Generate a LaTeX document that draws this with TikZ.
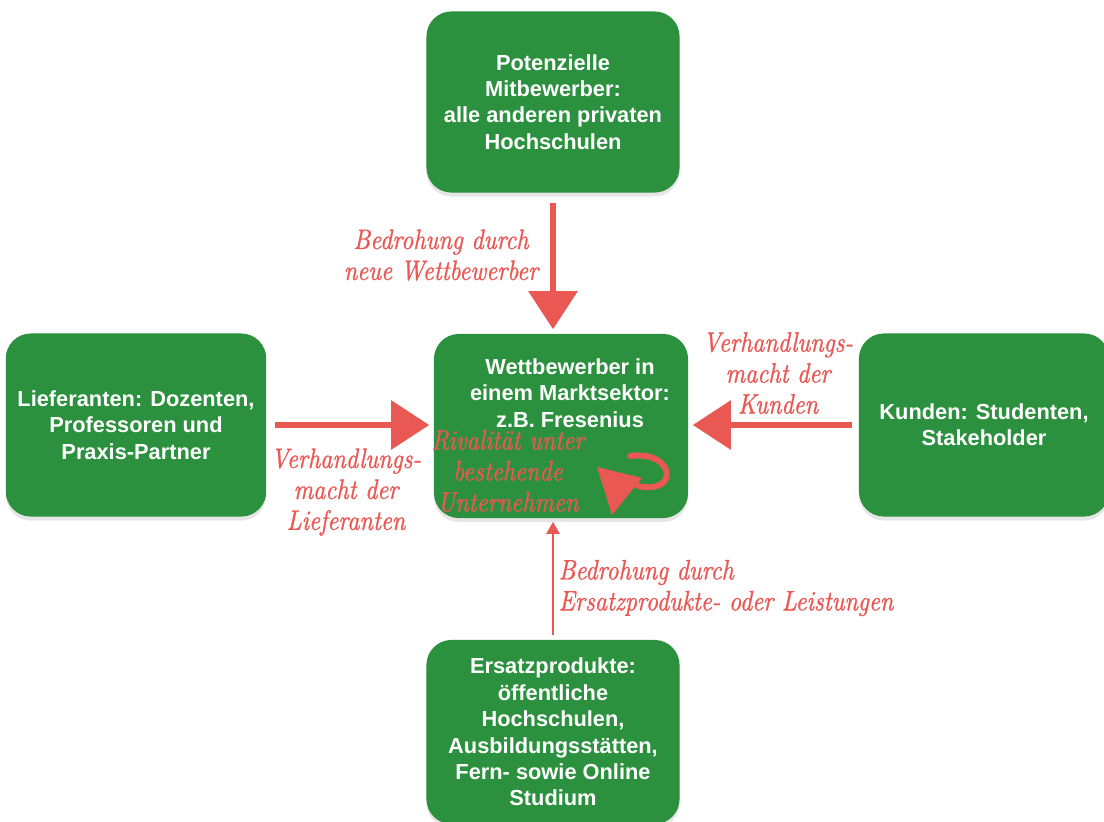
\documentclass[tikz,border=0pt]{standalone}
\usepackage{fontspec}
\newfontfamily\boxfont{Liberation Sans}
\newfontfamily\chalkfont[FakeStretch=0.85,FakeBold=1]{lmroman10-italic.otf}
\usetikzlibrary{arrows.meta,shadows}
\definecolor{boxgreen}{RGB}{44,145,62}
\definecolor{chalkred}{RGB}{234,88,84}
\begin{document}
\begin{tikzpicture}[x=0.01cm,y=-0.01cm,
	force/.style={fill=boxgreen, rounded corners=2.5mm, text=white, align=center,
		font=\boxfont\bfseries\fontsize{6.2}{7.5}\selectfont,
		drop shadow={opacity=0.2,shadow xshift=0mm,shadow yshift=-0.4mm}},
	note/.style={text=chalkred, align=center, inner sep=0pt, font=\chalkfont\fontsize{8}{8.8}\selectfont},
	bigarrow/.style={draw=chalkred, line width=0.6mm, -{Triangle[length=3.8mm,width=4.8mm]}},
	thinarrow/.style={draw=chalkred, line width=0.2mm, -{Triangle[length=1.2mm,width=1.3mm]}}]
	\useasboundingbox (0,0) rectangle (1104,821);
	\node[force, minimum width=25.3mm, minimum height=18.1mm] (pm) at (553,102) {Potenzielle\\Mitbewerber:\\alle anderen privaten\\Hochschulen};
	\node[force, minimum width=25.4mm, minimum height=18.4mm] (wb) at (561,426) {};
	\node[text=white, align=center, font=\boxfont\bfseries\fontsize{6.2}{7.5}\selectfont] (wbtext) at (570,393) {Wettbewerber in\\einem Marktsektor:\\z.B. Fresenius};
	\node[force, minimum width=25.5mm, minimum height=18.3mm] (lf) at (136,425) {Lieferanten: Dozenten,\\Professoren und\\Praxis-Partner};
	\node[force, minimum width=25mm, minimum height=18.3mm] (kd) at (984,425) {Kunden: Studenten,\\Stakeholder};
	\node[force, minimum width=25.3mm, minimum height=18.4mm] (ep) at (553,732) {Ersatzprodukte:\\öffentliche\\Hochschulen,\\Ausbildungsstätten,\\Fern- sowie Online\\Studium};
	% Kraefte
	\draw[bigarrow, shorten <=1mm, shorten >=0.4mm] (pm.south) -- (pm.south |- wb.north);
	\draw[bigarrow, shorten <=0.8mm, shorten >=0.4mm] (lf.east) -- (lf.east -| wb.west);
	\draw[bigarrow, shorten <=0.6mm, shorten >=0.4mm] (kd.west) -- (kd.west -| wb.east);
	\draw[thinarrow, shorten <=0.4mm, shorten >=0.3mm] (ep.north) -- (ep.north |- wb.south);
	% Rivalitaet im Markt
	\begin{scope}[shift={(wb.center)}]
		\draw[chalkred, line width=0.6mm, line cap=round] (69,30) .. controls (114,24) and (119,69) .. (77,60);
		\fill[chalkred] (36,41) -- (81,52) -- (51,89) -- cycle;
	\end{scope}
	% Beschriftungen
	\node[note] (neu) at (441,255) {Bedrohung durch\\neue Wettbewerber};
	\node[note] (kdnote) at (778,373) {Verhandlungs-\\macht der\\Kunden};
	\node[note] (lfnote) at (346,492) {Verhandlungs-\\macht der\\Lieferanten};
	\node[note] (rival) at (508,471) {Rivalität unter\\bestehende\\Unternehmen};
	\node[note, align=left, anchor=west] (epnote) at (558,588) {Bedrohung durch\\Ersatzprodukte- oder Leistungen};
\end{tikzpicture}
\end{document}
